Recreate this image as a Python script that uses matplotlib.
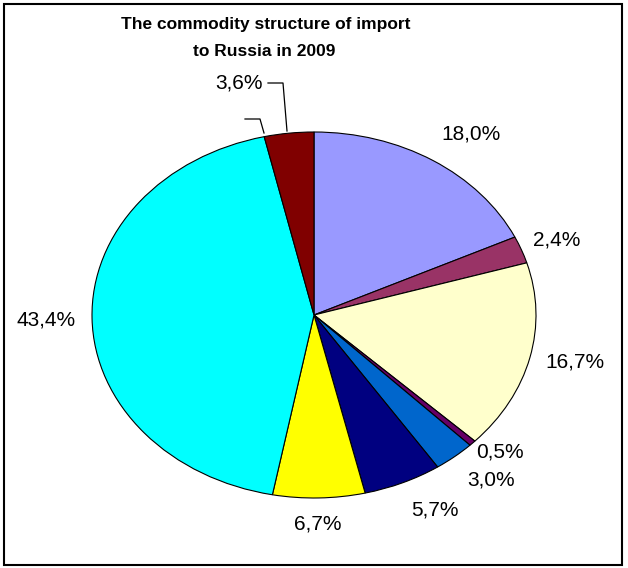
import matplotlib
matplotlib.use("Agg")
import matplotlib.pyplot as plt
from matplotlib.patches import Rectangle
from matplotlib.lines import Line2D

plt.rcParams['font.family'] = ['Liberation Sans', 'DejaVu Sans']

# shares of the import structure, %
shares = [18.0, 2.4, 16.7, 0.5, 3.0, 5.7, 6.7, 43.4, 3.6]
labels = ['18,0%', '2,4%', '16,7%', '0,5%', '3,0%', '5,7%', '6,7%', '43,4%', '3,6%']
colors = ['#9999FF', '#993366', '#FFFFCC', '#660066', '#0066CC',
          '#000080', '#FFFF00', '#00FFFF', '#800000']

# label centres in pixels (x from left, y from top)
label_px = [(471, 134), (557, 240), (575, 362), (500, 452), (491, 480),
            (435, 510), (318, 524), (46, 320), (239, 83)]

W, H = 628, 568
cx, cy, rx, ry = 314, 315, 222, 183

fig = plt.figure(figsize=(W / 100, H / 100), dpi=100)
ax = fig.add_axes([(cx - rx) / W, (H - cy - ry) / H, 2 * rx / W, 2 * ry / H])

wedges, _ = ax.pie(shares, colors=colors, startangle=90, counterclock=False,
                   wedgeprops=dict(edgecolor='black', linewidth=0.8))
ax.set_aspect('auto')
ax.set_xlim(-1, 1)
ax.set_ylim(-1, 1)
ax.axis('off')

for lab, (px, py) in zip(labels, label_px):
    ax.text((px - cx) / rx, (cy - py) / ry, lab, ha='center', va='center',
            fontsize=15, clip_on=False)

# leader lines
def px2d(p):
    return [(x - cx) / rx for x, y in p], [(cy - y) / ry for x, y in p]

for pts in [[(268, 83), (283, 83), (287, 131)],
            [(245, 119), (260, 119), (264, 133)]]:
    xs, ys = px2d(pts)
    ax.add_line(Line2D(xs, ys, color='black', linewidth=0.9, clip_on=False))

fig.text(266 / W, 1 - 25 / H, 'The commodity structure of import',
         ha='center', va='center', fontsize=12.5, fontweight='bold')
fig.text(264 / W, 1 - 52 / H, 'to Russia in 2009',
         ha='center', va='center', fontsize=12.5, fontweight='bold')

fig.patches.append(Rectangle((4 / W, 3 / H), 618 / W, 561 / H, transform=fig.transFigure,
                             fill=False, edgecolor='black', linewidth=1.5))

fig.savefig('out.png', dpi=100)
